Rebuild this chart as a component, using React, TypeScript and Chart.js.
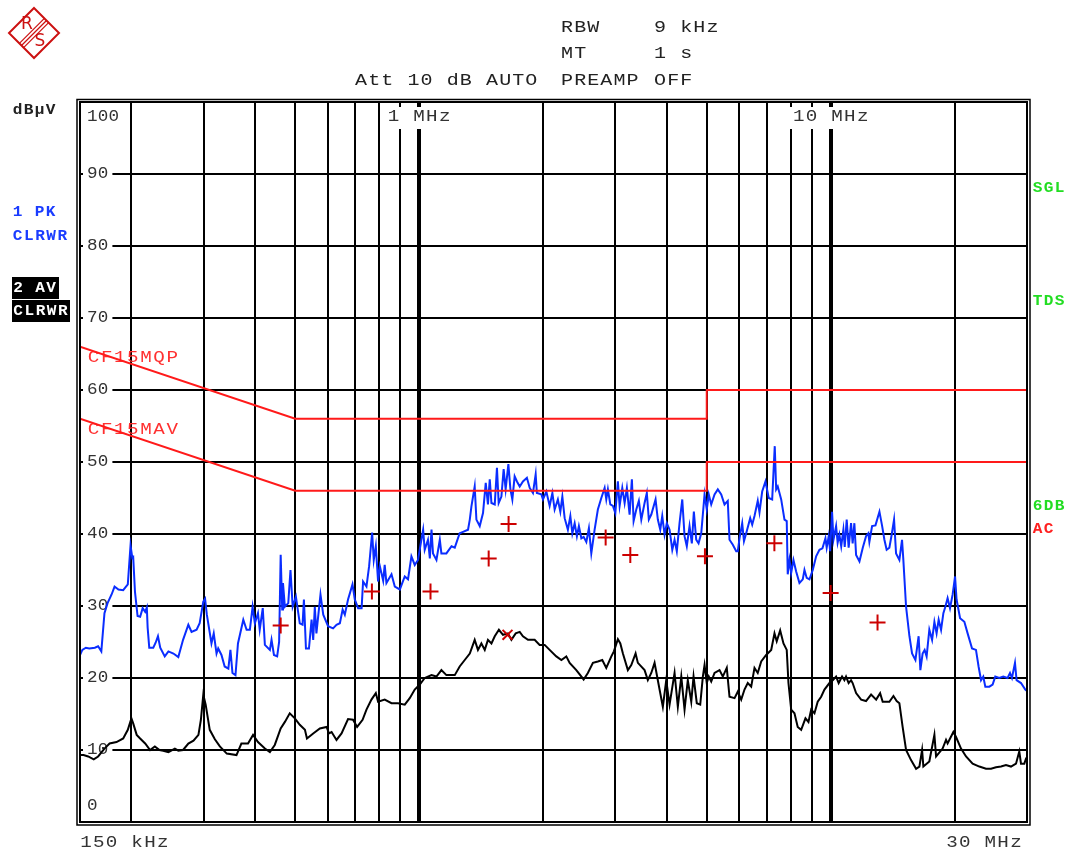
import React, { useEffect, useRef } from "react";
import { Chart, registerables } from "chart.js";

Chart.register(...registerables);

const W = 1069;
const H = 850;

// Trace 1: peak detector, clear/write (frequency in MHz, level in dBµV)
const pkFreq = [
  0.150, 0.152, 0.155, 0.158, 0.163, 0.166, 0.169, 0.172, 0.175, 0.179, 0.182, 0.186, 0.191, 0.196, 0.199, 0.201,
  0.202, 0.204, 0.207, 0.210, 0.213, 0.216, 0.218, 0.219, 0.221, 0.226, 0.229, 0.232, 0.235, 0.241, 0.246, 0.253,
  0.260, 0.267, 0.275, 0.280, 0.288, 0.293, 0.299, 0.302, 0.305, 0.313, 0.317, 0.322, 0.325, 0.331, 0.337, 0.344,
  0.348, 0.352, 0.358, 0.363, 0.374, 0.381, 0.388, 0.394, 0.399, 0.406, 0.410, 0.417, 0.422, 0.434, 0.438, 0.444,
  0.452, 0.457, 0.461, 0.465, 0.467, 0.472, 0.481, 0.487, 0.493, 0.502, 0.513, 0.521, 0.525, 0.531, 0.540, 0.548,
  0.553, 0.558, 0.563, 0.576, 0.585, 0.601, 0.618, 0.630, 0.642, 0.652, 0.660, 0.672, 0.689, 0.698, 0.711, 0.725,
  0.731, 0.745, 0.756, 0.769, 0.776, 0.785, 0.795, 0.803, 0.818, 0.825, 0.833, 0.857, 0.873, 0.898, 0.923, 0.940,
  0.958, 0.976, 0.994, 1.013, 1.023, 1.032, 1.051, 1.062, 1.072, 1.081, 1.102, 1.123, 1.133, 1.165, 1.199, 1.221,
  1.255, 1.279, 1.315, 1.328, 1.340, 1.365, 1.378, 1.404, 1.430, 1.452, 1.470, 1.485, 1.499, 1.527, 1.546, 1.561,
  1.585, 1.605, 1.623, 1.648, 1.667, 1.685, 1.707, 1.729, 1.756, 1.788, 1.828, 1.857, 1.891, 1.920, 1.933, 1.982,
  2.000, 2.038, 2.076, 2.108, 2.135, 2.174, 2.204, 2.229, 2.258, 2.299, 2.331, 2.357, 2.388, 2.418, 2.445, 2.479,
  2.511, 2.549, 2.586, 2.621, 2.670, 2.719, 2.772, 2.824, 2.850, 2.876, 2.915, 2.958, 2.998, 3.041, 3.071, 3.117,
  3.158, 3.198, 3.247, 3.289, 3.321, 3.371, 3.420, 3.467, 3.531, 3.576, 3.616, 3.666, 3.755, 3.803, 3.855, 3.898,
  3.949, 3.999, 4.061, 4.123, 4.176, 4.229, 4.294, 4.360, 4.416, 4.472, 4.541, 4.600, 4.652, 4.714, 4.776, 4.848,
  4.939, 5.001, 5.057, 5.127, 5.223, 5.319, 5.422, 5.523, 5.624, 5.679, 5.785, 5.896, 5.948, 6.006, 6.097, 6.158,
  6.235, 6.376, 6.448, 6.531, 6.651, 6.716, 6.818, 6.945, 7.073, 7.210, 7.315, 7.373, 7.438, 7.583, 7.724, 7.822,
  7.866, 7.943, 8.019, 8.122, 8.245, 8.399, 8.556, 8.638, 8.747, 8.882, 9.048, 9.221, 9.393, 9.552, 9.713, 9.782,
  9.892, 9.972, 10.08, 10.16, 10.31, 10.40, 10.50, 10.61, 10.74, 10.82, 10.94, 11.06, 11.21, 11.31, 11.42, 11.53,
  11.75, 11.97, 12.19, 12.35, 12.42, 12.61, 12.85, 13.14, 13.34, 13.51, 13.68, 13.89, 14.07, 14.26, 14.42, 14.69,
  14.91, 15.02, 15.25, 15.54, 15.77, 16.07, 16.36, 16.52, 16.73, 16.92, 17.11, 17.37, 17.64, 17.87, 18.09, 18.30,
  18.55, 18.79, 19.00, 19.24, 19.50, 19.79, 20.06, 20.23, 20.63, 21.13, 21.52, 22.06, 22.55, 22.88, 23.20, 23.49,
  23.76, 24.30, 24.75, 25.12, 25.69, 26.27, 26.91, 27.28, 27.58, 28.05, 28.30, 29.01, 29.71, 30.00,
];
const pkLevel = [
  23.2, 23.9, 24.2, 24.1, 24.2, 24.4, 23.7, 29.0, 30.4, 31.6, 32.7, 32.3, 32.2, 33.0, 38.4, 36.7,
  36.8, 32.0, 28.6, 28.5, 29.7, 29.2, 29.8, 27.0, 24.2, 24.2, 24.9, 25.8, 24.2, 23.0, 23.7, 23.4,
  22.9, 25.3, 27.4, 26.4, 26.7, 27.6, 30.6, 31.0, 28.8, 24.8, 26.2, 23.4, 24.1, 23.2, 21.6, 21.3,
  23.9, 20.7, 20.4, 24.8, 28.1, 26.7, 26.7, 29.9, 27.6, 29.0, 26.7, 29.7, 24.6, 23.9, 25.3, 23.2,
  23.0, 25.0, 37.1, 29.5, 33.2, 29.9, 30.4, 35.0, 29.9, 31.3, 27.6, 27.4, 30.9, 24.1, 24.1, 28.1,
  25.3, 29.9, 26.2, 31.6, 28.8, 27.2, 26.9, 27.4, 27.6, 29.5, 28.8, 30.9, 33.0, 30.9, 29.7, 29.7,
  33.4, 32.7, 35.5, 40.2, 36.4, 38.3, 33.4, 35.5, 33.5, 35.7, 33.2, 34.4, 32.7, 32.3, 34.1, 33.7,
  36.9, 35.7, 36.4, 39.2, 40.6, 37.8, 39.2, 36.6, 40.6, 37.3, 36.4, 39.2, 37.3, 37.3, 38.3, 38.1,
  40.1, 40.3, 40.6, 42.0, 43.8, 46.6, 42.0, 41.1, 42.9, 47.1, 44.1, 47.6, 44.3, 44.1, 49.2, 44.3,
  45.2, 49.0, 46.2, 49.7, 46.2, 44.8, 48.0, 47.3, 46.6, 47.3, 47.8, 46.4, 45.7, 48.3, 45.7, 45.5,
  44.8, 45.9, 43.9, 45.7, 43.4, 44.8, 43.1, 45.2, 42.2, 40.6, 42.5, 40.1, 41.5, 39.7, 41.1, 39.4,
  39.6, 38.9, 40.8, 37.3, 40.6, 43.4, 45.0, 46.4, 44.8, 46.2, 44.1, 43.9, 42.9, 47.3, 43.9, 46.4,
  44.3, 46.4, 42.7, 47.6, 41.8, 43.4, 44.6, 42.0, 44.3, 45.7, 42.0, 42.7, 44.8, 42.0, 40.6, 42.5,
  39.9, 41.5, 40.6, 37.8, 39.2, 37.6, 41.5, 44.8, 39.7, 38.3, 41.1, 38.7, 43.1, 39.2, 38.7, 40.1,
  45.5, 43.4, 45.5, 44.1, 45.5, 46.2, 45.5, 44.1, 44.6, 39.2, 38.5, 37.6, 37.6, 39.4, 41.5, 39.0,
  40.1, 42.2, 41.3, 42.5, 44.6, 43.0, 45.9, 47.3, 45.0, 44.8, 52.2, 46.2, 46.6, 44.8, 42.0, 41.8,
  34.4, 36.4, 34.6, 36.4, 34.8, 33.2, 33.7, 35.0, 33.9, 33.7, 35.0, 36.9, 37.8, 38.0, 39.4, 38.1,
  39.7, 37.6, 43.1, 39.2, 41.1, 38.8, 39.9, 38.3, 40.6, 38.2, 42.0, 38.1, 41.5, 38.7, 41.5, 37.1,
  36.2, 38.1, 39.7, 40.1, 38.9, 41.1, 41.2, 43.1, 41.1, 39.2, 37.8, 38.1, 39.9, 42.0, 37.3, 36.4,
  39.2, 36.4, 29.9, 25.8, 23.4, 22.5, 25.8, 21.1, 23.4, 23.9, 23.0, 26.7, 25.3, 27.8, 26.2, 28.1,
  26.7, 29.0, 29.9, 31.1, 29.7, 31.6, 34.1, 30.9, 28.3, 27.8, 26.2, 24.1, 23.9, 21.6, 19.7, 20.2,
  18.8, 18.8, 19.1, 20.2, 20.0, 20.2, 20.0, 20.7, 20.0, 22.1, 19.7, 19.3, 18.4, 18.2,
];

// Trace 2: average detector, clear/write
const avFreq = [
  0.150, 0.153, 0.157, 0.162, 0.166, 0.172, 0.177, 0.184, 0.191, 0.196, 0.200, 0.202, 0.206, 0.210, 0.216, 0.222,
  0.228, 0.234, 0.239, 0.246, 0.255, 0.260, 0.267, 0.275, 0.283, 0.291, 0.295, 0.299, 0.303, 0.310, 0.319, 0.328,
  0.341, 0.360, 0.370, 0.384, 0.395, 0.406, 0.422, 0.434, 0.446, 0.461, 0.472, 0.485, 0.499, 0.513, 0.528, 0.534,
  0.553, 0.574, 0.596, 0.604, 0.613, 0.630, 0.648, 0.672, 0.691, 0.707, 0.729, 0.745, 0.766, 0.785, 0.795, 0.825,
  0.857, 0.889, 0.923, 0.949, 0.976, 1.004, 1.032, 1.072, 1.102, 1.133, 1.165, 1.221, 1.255, 1.291, 1.328, 1.365,
  1.390, 1.417, 1.444, 1.470, 1.499, 1.527, 1.563, 1.599, 1.644, 1.676, 1.717, 1.756, 1.788, 1.839, 1.909, 1.963,
  2.019, 2.076, 2.155, 2.217, 2.279, 2.322, 2.410, 2.511, 2.571, 2.645, 2.719, 2.787, 2.850, 2.932, 2.974, 3.041,
  3.083, 3.128, 3.216, 3.278, 3.358, 3.401, 3.531, 3.596, 3.666, 3.734, 3.840, 3.911, 3.986, 4.061, 4.176, 4.253,
  4.336, 4.416, 4.497, 4.585, 4.644, 4.729, 4.821, 4.892, 4.939, 5.001, 5.057, 5.127, 5.223, 5.370, 5.470, 5.593,
  5.679, 5.841, 5.948, 6.063, 6.176, 6.290, 6.412, 6.531, 6.651, 6.781, 6.972, 7.171, 7.304, 7.396, 7.540, 7.681,
  7.822, 7.898, 8.019, 8.168, 8.318, 8.480, 8.686, 8.833, 8.968, 9.135, 9.302, 9.483, 9.660, 9.933, 10.12, 10.31,
  10.46, 10.66, 10.80, 10.90, 11.06, 11.21, 11.31, 11.53, 11.86, 12.19, 12.54, 12.90, 13.19, 13.38, 13.89, 14.21,
  14.47, 14.69, 14.96, 15.25, 15.68, 16.13, 16.43, 16.68, 16.80, 17.37, 17.87, 18.04, 18.71, 19.07, 19.24, 19.87,
  20.17, 20.74, 21.33, 22.13, 22.98, 23.85, 24.53, 25.22, 25.94, 26.67, 27.43, 28.21, 28.73, 29.01, 29.55, 29.83,
  30.00,
];
const avLevel = [
  9.3, 9.3, 9.1, 8.7, 9.1, 10.2, 10.9, 11.1, 11.6, 12.8, 14.4, 13.7, 12.1, 11.6, 10.9, 10.0,
  10.5, 10.0, 9.9, 9.7, 10.2, 9.9, 10.0, 10.9, 11.3, 12.1, 14.2, 17.7, 16.3, 12.8, 11.5, 10.5,
  9.5, 9.3, 10.9, 10.9, 12.1, 11.1, 10.2, 9.7, 10.7, 13.0, 13.9, 15.1, 14.4, 13.5, 12.8, 11.6,
  12.3, 13.0, 13.2, 12.3, 12.5, 11.4, 12.3, 14.3, 14.2, 13.2, 14.2, 15.6, 17.0, 17.9, 16.7, 17.0,
  16.5, 16.5, 16.3, 17.2, 18.4, 19.1, 20.0, 20.4, 20.2, 21.1, 20.4, 20.4, 21.6, 22.5, 23.4, 25.3,
  23.9, 24.8, 23.9, 25.3, 24.8, 25.8, 26.7, 26.0, 26.2, 25.3, 26.2, 26.4, 25.8, 25.3, 25.3, 24.6,
  24.6, 23.9, 23.0, 22.5, 23.0, 22.1, 21.1, 19.8, 20.7, 22.1, 22.3, 22.5, 21.4, 23.0, 23.7, 25.4,
  24.8, 23.4, 21.1, 21.8, 23.4, 22.1, 21.1, 19.7, 20.7, 22.1, 18.4, 16.0, 19.7, 16.3, 20.7, 16.0,
  20.2, 15.6, 19.7, 16.7, 20.2, 16.5, 16.3, 20.2, 21.8, 19.3, 20.2, 19.5, 20.7, 21.1, 20.2, 21.4,
  17.4, 17.2, 18.1, 17.0, 18.4, 19.3, 18.8, 21.4, 20.7, 22.3, 23.2, 23.9, 26.2, 25.1, 26.6, 24.8,
  23.9, 19.3, 15.6, 15.1, 13.2, 12.8, 14.4, 13.9, 15.6, 15.1, 16.7, 17.4, 18.4, 19.3, 19.7, 20.2,
  19.3, 20.2, 19.7, 20.2, 19.3, 19.7, 19.3, 17.9, 17.0, 16.8, 17.7, 17.0, 17.9, 16.7, 16.7, 17.5,
  16.8, 16.5, 13.2, 10.0, 8.6, 7.4, 7.7, 10.0, 7.7, 8.4, 12.1, 9.1, 10.2, 11.4, 10.9, 12.5,
  11.8, 10.2, 9.1, 8.1, 7.7, 7.4, 7.4, 7.6, 7.7, 7.9, 7.7, 8.1, 9.8, 8.1, 8.1, 8.8,
  9.0,
];

// Limit lines: quasi-peak and average
const qpLimitFreq = [0.15, 0.5, 5, 5, 30];
const qpLimitLevel = [66, 56, 56, 60, 60];
const avLimitFreq = [0.15, 0.5, 5, 5, 30];
const avLimitLevel = [56, 46, 46, 50, 50];

// Final measurement markers
const pkMarkFreq = [0.461, 0.768, 1.066, 1.476, 1.65, 2.84, 3.26, 4.95, 7.3, 10.0, 13.0];
const pkMarkLevel = [27.3, 32.0, 32.0, 36.6, 41.4, 39.5, 37.1, 36.9, 38.7, 31.8, 27.7];
const avMarkFreq = [1.64];
const avMarkLevel = [26.0];

// Grid
const gridFreqs = [0.2, 0.3, 0.4, 0.5, 0.6, 0.7, 0.8, 0.9, 1, 2, 3, 4, 5, 6, 7, 8, 9, 10, 20];
const levelTicks = [0, 10, 20, 30, 40, 50, 60, 70, 80, 90, 100];
const decadeFreqs = [1, 10];
const decadeLabels = ["1 MHz", "10 MHz"];

const MONO = '"Liberation Mono", "DejaVu Sans Mono", monospace';

const zip = (xs: number[], ys: number[]) => xs.map((x, i) => ({ x, y: ys[i] }));

// Monospaced text drawn on a fixed character pitch, optionally widened
function spaced(
  ctx: CanvasRenderingContext2D,
  text: string,
  x: number,
  y: number,
  pitch: number,
  stretch = 1
) {
  ctx.textAlign = "center";
  ctx.textBaseline = "middle";
  for (let i = 0; i < text.length; i++) {
    ctx.save();
    ctx.translate(x + (i + 0.5) * pitch, y);
    ctx.scale(stretch, 1);
    ctx.fillText(text[i], 0, 0);
    ctx.restore();
  }
}

const decor = {
  id: "analyzerDecor",
  beforeDatasetsDraw(chart: any) {
    const { ctx, chartArea: ca, scales } = chart;
    const xs = scales.x;
    const ys = scales.y;
    ctx.save();

    // Level labels inside the left edge
    ctx.font = `16px ${MONO}`;
    levelTicks.forEach((v) => {
      let py = ys.getPixelForValue(v);
      const txt = String(v);
      if (v === 100) py = ca.top + 15;
      else if (v === 0) py = ca.bottom - 16;
      else {
        ctx.fillStyle = "#fff";
        ctx.fillRect(ca.left + 3, py - 7, txt.length * 10.7 + 8, 14);
      }
      ctx.fillStyle = "#333";
      spaced(ctx, txt, ca.left + 7, py, 10.7, 1.1);
    });

    // Decade labels along the top edge
    decadeFreqs.forEach((f, i) => {
      const px = xs.getPixelForValue(f);
      const txt = decadeLabels[i];
      const w = txt.length * 12.8;
      ctx.fillStyle = "#fff";
      ctx.fillRect(px - w / 2 - 3, ca.top + 5, w + 6, 22);
      ctx.fillStyle = "#333";
      spaced(ctx, txt, px - w / 2, ca.top + 15, 12.8, 1.2);
    });

    // Limit line names
    ctx.font = `16px ${MONO}`;
    ctx.fillStyle = "#ff3030";
    spaced(ctx, "CF15MQP", ca.left + 7, ys.getPixelForValue(qpLimitLevel[0]) + 11, 13.1, 1.2);
    spaced(ctx, "CF15MAV", ca.left + 7, ys.getPixelForValue(avLimitLevel[0]) + 11, 13.1, 1.2);
    ctx.restore();
  },
  afterDraw(chart: any) {
    const { ctx, chartArea: ca } = chart;
    ctx.save();

    // Double frame
    ctx.strokeStyle = "#000";
    ctx.lineWidth = 2;
    ctx.strokeRect(ca.left, ca.top, ca.right - ca.left, ca.bottom - ca.top);
    ctx.lineWidth = 1.5;
    ctx.strokeRect(ca.left - 3, ca.top - 2.5, ca.right - ca.left + 6, ca.bottom - ca.top + 5.5);

    // Instrument settings header
    ctx.font = `16px ${MONO}`;
    ctx.fillStyle = "#222";
    spaced(ctx, "RBW", 560.5, 28, 13.1, 1.25);
    spaced(ctx, "9 kHz", 653.5, 28, 13.1, 1.25);
    spaced(ctx, "MT", 560.5, 54, 13.1, 1.25);
    spaced(ctx, "1 s", 653.5, 54, 13.1, 1.25);
    spaced(ctx, "Att 10 dB AUTO", 354.5, 81, 13.1, 1.25);
    spaced(ctx, "PREAMP", 560.5, 81, 13.1, 1.25);
    spaced(ctx, "OFF", 653.5, 81, 13.1, 1.25);

    // Frequency span labels
    ctx.fillStyle = "#333";
    spaced(ctx, "150 kHz", ca.left - 0.5, 843, 12.8, 1.2);
    spaced(ctx, "30 MHz", 945.5, 843, 12.8, 1.2);

    // Unit and trace labels on the left
    ctx.font = `bold 14px ${MONO}`;
    ctx.fillStyle = "#222";
    spaced(ctx, "dBµV", 12, 110, 11, 1.15);
    ctx.fillStyle = "#1a3cff";
    spaced(ctx, "1 PK", 12, 212, 11, 1.15);
    spaced(ctx, "CLRWR", 12, 236, 11.2, 1.15);
    ctx.fillStyle = "#000";
    ctx.fillRect(12, 277, 47, 22);
    ctx.fillRect(12, 300, 58, 22);
    ctx.fillStyle = "#fff";
    spaced(ctx, "2 AV", 12.5, 288, 11, 1.15);
    spaced(ctx, "CLRWR", 12.5, 311, 11.2, 1.15);

    // Status labels on the right
    ctx.fillStyle = "#22dd22";
    spaced(ctx, "SGL", 1032, 188, 11, 1.15);
    spaced(ctx, "TDS", 1032, 301, 11, 1.15);
    spaced(ctx, "6DB", 1032, 506, 11, 1.15);
    ctx.fillStyle = "#ff2020";
    spaced(ctx, "AC", 1032, 529, 11, 1.15);

    // Maker logo
    const cx = 34, cy = 33, r = 25;
    ctx.strokeStyle = "#cc1111";
    ctx.fillStyle = "#cc1111";
    ctx.lineWidth = 2;
    ctx.beginPath();
    ctx.moveTo(cx, cy - r);
    ctx.lineTo(cx + r, cy);
    ctx.lineTo(cx, cy + r);
    ctx.lineTo(cx - r, cy);
    ctx.closePath();
    ctx.stroke();
    ctx.lineWidth = 1.2;
    [-3, 0, 3].forEach((o) => {
      const d = o / Math.SQRT2;
      ctx.beginPath();
      ctx.moveTo(cx - r / 2 + d, cy + r / 2 + d);
      ctx.lineTo(cx + r / 2 + d, cy - r / 2 + d);
      ctx.stroke();
    });
    ctx.font = `17px "DejaVu Sans", sans-serif`;
    ctx.textAlign = "center";
    ctx.textBaseline = "middle";
    ctx.fillText("R", 27, 25);
    ctx.fillText("S", 40, 42);
    ctx.restore();
  },
};

export default function App() {
  const ref = useRef<HTMLCanvasElement | null>(null);

  useEffect(() => {
    if (!ref.current) return;
    const chart = new Chart(ref.current, {
      type: "line",
      data: {
        datasets: [
          {
            label: "AV final",
            data: zip(avMarkFreq, avMarkLevel),
            showLine: false,
            pointStyle: "crossRot",
            pointRadius: 7,
            borderColor: "#cc0000",
            borderWidth: 2,
          },
          {
            label: "QP final",
            data: zip(pkMarkFreq, pkMarkLevel),
            showLine: false,
            pointStyle: "cross",
            pointRadius: 8,
            borderColor: "#cc0000",
            borderWidth: 2,
          },
          {
            label: "CF15MQP",
            data: zip(qpLimitFreq, qpLimitLevel),
            borderColor: "#ff1a1a",
            borderWidth: 2,
            pointRadius: 0,
          },
          {
            label: "CF15MAV",
            data: zip(avLimitFreq, avLimitLevel),
            borderColor: "#ff1a1a",
            borderWidth: 2,
            pointRadius: 0,
          },
          {
            label: "1 PK",
            data: zip(pkFreq, pkLevel),
            borderColor: "#0a2dff",
            borderWidth: 2,
            pointRadius: 0,
          },
          {
            label: "2 AV",
            data: zip(avFreq, avLevel),
            borderColor: "#000",
            borderWidth: 2,
            pointRadius: 0,
          },
        ],
      },
      options: {
        responsive: false,
        animation: false,
        devicePixelRatio: 1,
        events: [],
        layout: { padding: { left: 80, top: 102, right: W - 1027, bottom: H - 822 } },
        plugins: { legend: { display: false }, tooltip: { enabled: false } },
        scales: {
          x: {
            type: "logarithmic",
            min: 0.15,
            max: 30,
            afterBuildTicks: (s: any) => {
              s.ticks = gridFreqs.map((value) => ({ value }));
            },
            ticks: { display: false },
            border: { display: false },
            grid: {
              color: "#000",
              drawTicks: false,
              lineWidth: (c: any) => (c.tick && decadeFreqs.includes(c.tick.value) ? 4 : 2),
            },
          },
          y: {
            type: "linear",
            min: 0,
            max: 100,
            afterBuildTicks: (s: any) => {
              s.ticks = levelTicks.map((value) => ({ value }));
            },
            ticks: { display: false },
            border: { display: false },
            grid: { color: "#000", drawTicks: false, lineWidth: 2 },
          },
        },
      },
      plugins: [decor],
    } as any);
    return () => chart.destroy();
  }, []);

  return (
    <div style={{ position: "absolute", left: 0, top: 0, width: W, height: H, background: "#fff" }}>
      <canvas ref={ref} width={W} height={H} style={{ display: "block", width: W, height: H }} />
    </div>
  );
}
